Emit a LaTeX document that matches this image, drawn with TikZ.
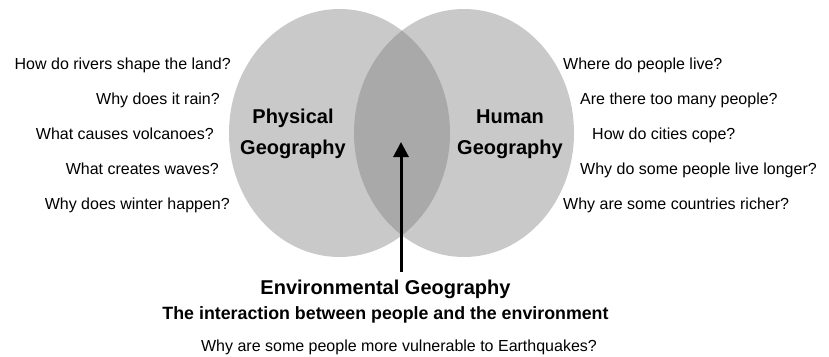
\documentclass[tikz,border=0pt]{standalone}
\usepackage{fontspec}
\setmainfont{Liberation Sans}
\usetikzlibrary{arrows.meta}
\definecolor{single}{HTML}{C9C9C9}
\definecolor{both}{HTML}{A9A9A9}
\tikzset{
  q/.style={inner sep=0pt, font=\fontsize{16}{19}\selectfont},
  qleft/.style={q, anchor=base east},
  qright/.style={q, anchor=base west},
  big/.style={inner sep=0pt, align=center, font=\fontsize{20}{31}\bfseries\selectfont},
}
\begin{document}
\begin{tikzpicture}[x=1pt,y=-1pt]
\useasboundingbox (0,0) rectangle (829,356);
% circles
\fill[single] (339.5,133) ellipse [x radius=110.5, y radius=124];
\fill[single] (464,133) ellipse [x radius=110, y radius=124];
\begin{scope}
\clip (339.5,133) ellipse [x radius=110.5, y radius=124];
\fill[both] (464,133) ellipse [x radius=110, y radius=124];
\end{scope}
% circle labels
\node[big] (phys) at (293,134) {Physical\\Geography};
\node[big] (hum) at (510,134) {Human\\Geography};
% left questions
\node[qleft] (l1) at (231,69) {How do rivers shape the land?};
\node[qleft] (l2) at (220,104) {Why does it rain?};
\node[qleft] (l3) at (214,139) {What causes volcanoes?};
\node[qleft] (l4) at (219,174) {What creates waves?};
\node[qleft] (l5) at (230,209) {Why does winter happen?};
% right questions
\node[qright] (r1) at (563,69) {Where do people live?};
\node[qright] (r2) at (580,104) {Are there too many people?};
\node[qright] (r3) at (592,139) {How do cities cope?};
\node[qright] (r4) at (580,174) {Why do some people live longer?};
\node[qright] (r5) at (563,209) {Why are some countries richer?};
% bottom
\node[inner sep=0pt, anchor=base, font=\fontsize{20}{24}\bfseries\selectfont] (env) at (385.5,294.5) {Environmental Geography};
\node[inner sep=0pt, anchor=base, font=\fontsize{17.8}{21}\bfseries\selectfont] (inter) at (385.5,319.5) {The interaction between people and the environment};
\node[q, anchor=base] (eq) at (399,351) {Why are some people more vulnerable to Earthquakes?};
% arrow
\coordinate (tail) at (401,272);
\coordinate (tip) at (401,142);
\draw[line width=3pt, -{Triangle[length=15pt, width=15pt]}] (tail) -- (tip);
\end{tikzpicture}
\end{document}
